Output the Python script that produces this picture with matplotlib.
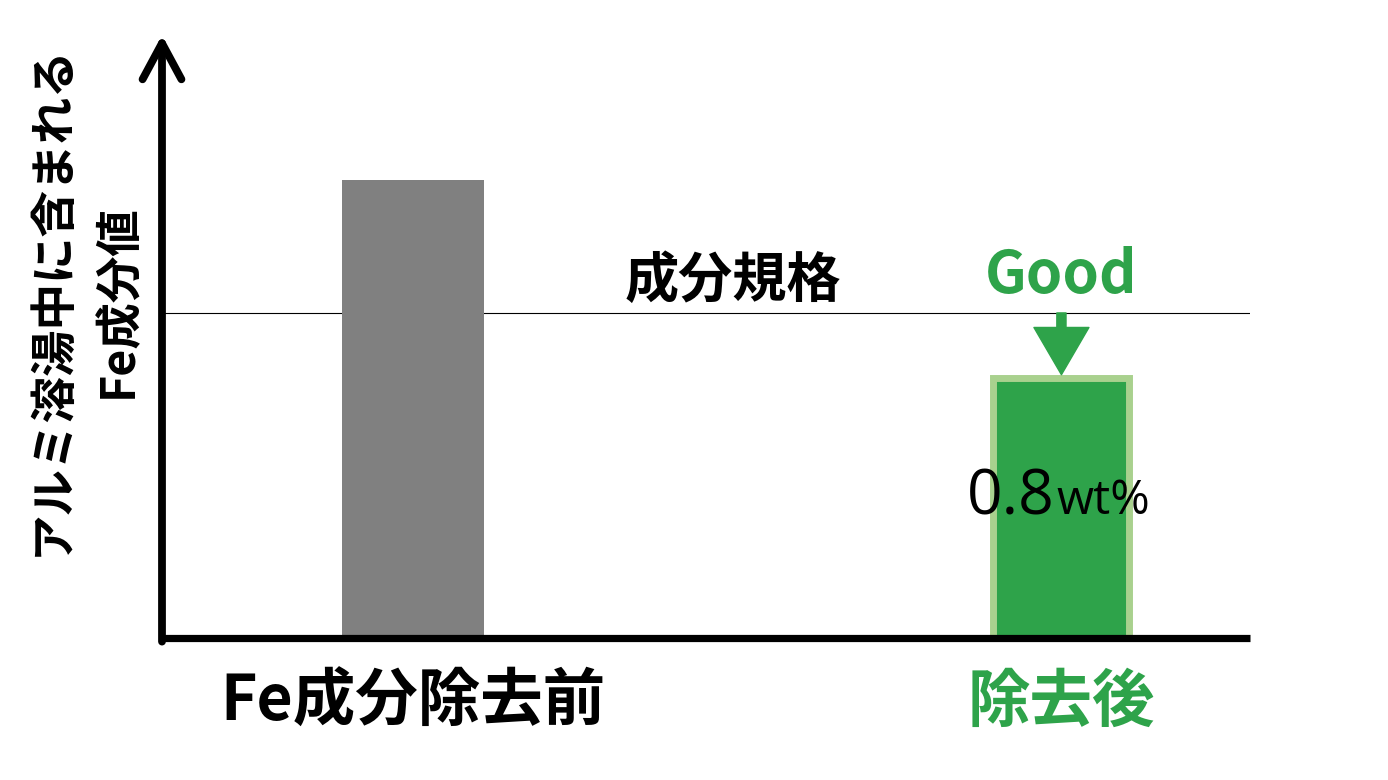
import numpy as np
import matplotlib
matplotlib.use("Agg")
import matplotlib.pyplot as plt

plt.rcParams['font.family'] = ['Noto Sans CJK JP', 'DejaVu Sans']

# data (Fe content, wt%)
categories = ['Fe成分除去前', '除去後']
values = [1.41, 0.8]
spec = 1.0
spec_label = '成分規格'
ylabel_lines = ['アルミ溶湯中に含まれる', 'Fe成分値']

gray = '#808080'
green = '#2EA34A'
light_green = '#A9D18E'

W, H = 1388, 780
fig = plt.figure(figsize=(W / 100, H / 100), dpi=100)
ax = fig.add_axes([162 / W, (H - 638) / H, (1250 - 162) / W, (638 - 35) / H])
ax.set_xlim(-0.388, 1.291)
ax.set_ylim(0, 1.855)

x = np.arange(len(categories))
ax.bar(x[0], values[0], width=0.219, color=gray, zorder=2)
ax.bar(x[1], values[1], width=0.210, color=green, edgecolor=light_green,
       linewidth=5.0, zorder=2)

# spec line
ax.axhline(spec, color='black', lw=0.8, zorder=1)
ax.text(0.493, spec + 0.012, spec_label, ha='center', va='bottom',
        fontsize=39, fontweight='bold')

# axes
for s in ['top', 'right', 'left']:
    ax.spines[s].set_visible(False)
ax.spines['bottom'].set_linewidth(5.2)
ax.spines['bottom'].set_capstyle('butt')
ax.annotate('', xy=(0, 1), xytext=(0, -0.006), xycoords='axes fraction',
            arrowprops=dict(arrowstyle='->,head_length=1.3,head_width=0.7',
                            lw=5.6, color='black', mutation_scale=20,
                            shrinkA=0, shrinkB=0, capstyle='round',
                            joinstyle='round'))
ax.set_xticks([])
ax.set_yticks([])

# category labels
ax.text(x[0], -0.1, categories[0], ha='center', va='top', fontsize=45,
        fontweight='bold', color='black')
ax.text(x[1], -0.1, categories[1], ha='center', va='top', fontsize=45,
        fontweight='bold', color=green)

# Good annotation
ax.text(x[1], spec + 0.02, 'Good', ha='center', va='bottom', fontsize=42,
        color=green, fontweight='bold')
ax.annotate('', xy=(x[1], values[1] + 0.01), xytext=(x[1], spec),
            arrowprops=dict(arrowstyle='simple,head_length=1.7,head_width=1.98,tail_width=0.33',
                            color=green, mutation_scale=20, shrinkA=0, shrinkB=0))

# value label
ax.text(x[1] - 0.01, 0.38, f'{values[1]:.1f}', ha='right', va='baseline',
        fontsize=45, color='black', family=['Open Sans', 'DejaVu Sans'])
ax.text(x[1] - 0.007, 0.38, 'wt%', ha='left', va='baseline',
        fontsize=34.5, color='black', family=['Open Sans', 'DejaVu Sans'])

# y label
fig.text(52 / W, 1 - 300 / H, ylabel_lines[0], rotation=90, ha='center',
         va='center', fontsize=33.5, fontweight='bold')
fig.text(118 / W, 1 - 301 / H, ylabel_lines[1], rotation=90, ha='center',
         va='center', fontsize=33.5, fontweight='bold')

fig.savefig('out.png', dpi=100)
